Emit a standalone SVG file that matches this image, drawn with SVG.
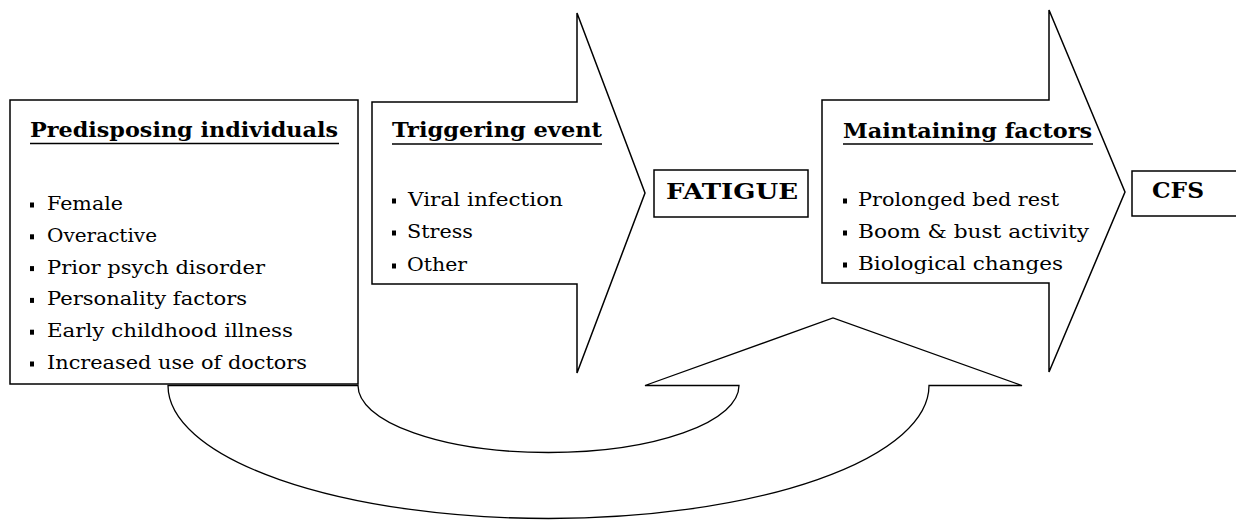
<svg xmlns="http://www.w3.org/2000/svg" width="1236" height="520" viewBox="0 0 1236 520">
<style>
.shape{fill:#fff;stroke:#000;stroke-width:1.5;stroke-linejoin:miter}
.thin{fill:#fff;stroke:#000;stroke-width:1.3}
.title{font-family:"DejaVu Serif","Liberation Serif",serif;font-weight:bold;font-size:21px;fill:#000}
.body{font-family:"DejaVu Serif","Liberation Serif",serif;font-size:18px;fill:#000}
.big{font-family:"DejaVu Serif","Liberation Serif",serif;font-weight:bold;font-size:22px;fill:#000}
.ul{stroke:#000;stroke-width:1.5}
.bul{fill:#000}
</style>
<rect width="1236" height="520" fill="#fff"/>
<g id="connectors">
<path class="thin" d="M168,385.5 A380.5,133 0 0 0 929,385.5 L1022,385.5 L833,318 L645,385.5 L739,385.5 A190.5,67 0 0 1 358,385.5 Z"/>
</g>
<g id="predisposing">
<rect class="shape" x="10" y="100" width="348" height="284"/>
<text class="title" x="30" y="137" textLength="308" lengthAdjust="spacingAndGlyphs">Predisposing individuals</text>
<line class="ul" x1="30" y1="143.5" x2="339" y2="143.5"/>
<rect class="bul" x="30" y="202.5" width="4" height="5"/>
<text class="body" x="47" y="210" textLength="76" lengthAdjust="spacingAndGlyphs">Female</text>
<rect class="bul" x="30" y="234.3" width="4" height="5"/>
<text class="body" x="47" y="241.8" textLength="110" lengthAdjust="spacingAndGlyphs">Overactive</text>
<rect class="bul" x="30" y="266.1" width="4" height="5"/>
<text class="body" x="47" y="273.6" textLength="218" lengthAdjust="spacingAndGlyphs">Prior psych disorder</text>
<rect class="bul" x="30" y="297.9" width="4" height="5"/>
<text class="body" x="47" y="305.4" textLength="200" lengthAdjust="spacingAndGlyphs">Personality factors</text>
<rect class="bul" x="30" y="329.7" width="4" height="5"/>
<text class="body" x="47" y="337.2" textLength="246" lengthAdjust="spacingAndGlyphs">Early childhood illness</text>
<rect class="bul" x="30" y="361.5" width="4" height="5"/>
<text class="body" x="47" y="369" textLength="260" lengthAdjust="spacingAndGlyphs">Increased use of doctors</text>
</g>
<g id="triggering">
<polygon class="shape" points="372,102 577,102 577,13 645,193 577,373 577,284 372,284"/>
<text class="title" x="392" y="137" textLength="210" lengthAdjust="spacingAndGlyphs">Triggering event</text>
<line class="ul" x1="392" y1="144" x2="602" y2="144"/>
<rect class="bul" x="392" y="198.5" width="4" height="5"/>
<text class="body" x="408" y="206" textLength="155" lengthAdjust="spacingAndGlyphs">Viral infection</text>
<rect class="bul" x="392" y="230.5" width="4" height="5"/>
<text class="body" x="407" y="238" textLength="66" lengthAdjust="spacingAndGlyphs">Stress</text>
<rect class="bul" x="392" y="263.5" width="4" height="5"/>
<text class="body" x="407" y="271" textLength="60" lengthAdjust="spacingAndGlyphs">Other</text>
</g>
<g id="fatigue">
<rect class="shape" x="654" y="170" width="154" height="47"/>
<text class="big" x="666" y="199" textLength="132" lengthAdjust="spacingAndGlyphs">FATIGUE</text>
</g>
<g id="maintaining">
<polygon class="shape" points="822,100 1049,100 1049,10 1125,192 1049,372 1049,283 822,283"/>
<text class="title" x="843" y="138" textLength="249" lengthAdjust="spacingAndGlyphs">Maintaining factors</text>
<line class="ul" x1="843" y1="144" x2="1093" y2="144"/>
<rect class="bul" x="843" y="198.5" width="4" height="5"/>
<text class="body" x="858" y="206" textLength="201" lengthAdjust="spacingAndGlyphs">Prolonged bed rest</text>
<rect class="bul" x="843" y="230.5" width="4" height="5"/>
<text class="body" x="858" y="238" textLength="231" lengthAdjust="spacingAndGlyphs">Boom &amp; bust activity</text>
<rect class="bul" x="843" y="262.5" width="4" height="5"/>
<text class="body" x="858" y="270" textLength="205" lengthAdjust="spacingAndGlyphs">Biological changes</text>
</g>
<g id="cfs">
<rect class="shape" x="1132" y="171" width="110" height="45"/>
<text class="big" x="1152" y="198" textLength="52" lengthAdjust="spacingAndGlyphs">CFS</text>
</g>
</svg>
